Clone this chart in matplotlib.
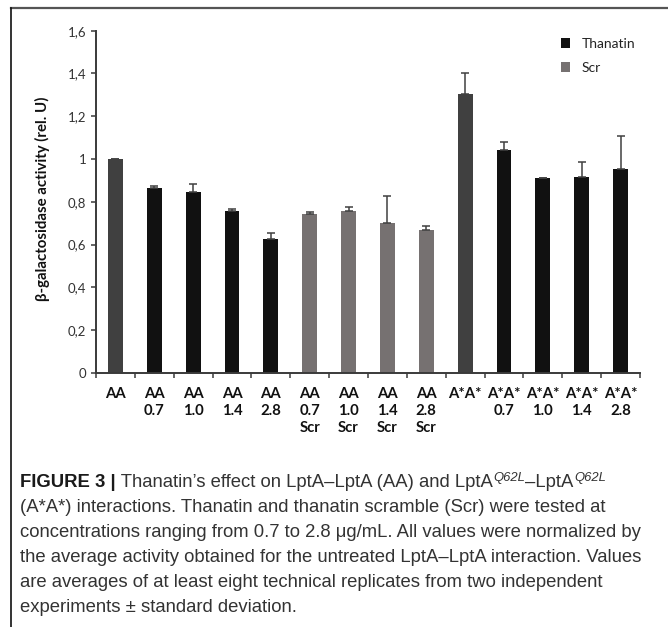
import matplotlib
matplotlib.use("Agg")
import matplotlib.pyplot as plt
from matplotlib.patches import Patch
from matplotlib.lines import Line2D
import numpy as np

# ---------------- data ----------------
categories = ["AA", "AA\n0.7", "AA\n1.0", "AA\n1.4", "AA\n2.8",
              "AA\n0.7\nScr", "AA\n1.0\nScr", "AA\n1.4\nScr", "AA\n2.8\nScr",
              "A*A*", "A*A*\n0.7", "A*A*\n1.0", "A*A*\n1.4", "A*A*\n2.8"]
values = [1.000, 0.863, 0.846, 0.757, 0.625,
          0.743, 0.755, 0.701, 0.668,
          1.305, 1.041, 0.910, 0.917, 0.952]
errors = [0.000, 0.012, 0.039, 0.010, 0.031,
          0.009, 0.022, 0.126, 0.018,
          0.095, 0.040, 0.002, 0.067, 0.154]
groups = ["untreated", "Thanatin", "Thanatin", "Thanatin", "Thanatin",
          "Scr", "Scr", "Scr", "Scr",
          "untreated", "Thanatin", "Thanatin", "Thanatin", "Thanatin"]
yticks = [0, 0.2, 0.4, 0.6, 0.8, 1.0, 1.2, 1.4, 1.6]
ytick_labels = ["0", "0,2", "0,4", "0,6", "0,8", "1", "1,2", "1,4", "1,6"]
legend_labels = ["Thanatin", "Scr"]
ylabel = "β-galactosidase activity (rel. U)"

caption_lines = [
    None,  # first line built from pieces
    "(A*A*) interactions. Thanatin and thanatin scramble (Scr) were tested at",
    "concentrations ranging from 0.7 to 2.8 μg/mL. All values were normalized by",
    "the average activity obtained for the untreated LptA–LptA interaction. Values",
    "are averages of at least eight technical replicates from two independent",
    "experiments ± standard deviation.",
]

# ---------------- style ----------------
colors = {"untreated": "#404040", "Thanatin": "#111111", "Scr": "#767171"}
axis_color = "#3a3a3a"
W, H = 668, 627
DPI = 100
cap_font = "Liberation Sans"

fig = plt.figure(figsize=(W / DPI, H / DPI), dpi=DPI)
fig.patch.set_facecolor("white")

def fx(px):
    return px / W

def fy(py):
    return 1 - py / H

ax_left, ax_right, ax_top, ax_bottom = 96, 640, 30.7, 373
ax = fig.add_axes([fx(ax_left), fy(ax_bottom), (ax_right - ax_left) / W,
                   (ax_bottom - ax_top) / H])

x = np.arange(len(categories))
bar_colors = [colors[g] for g in groups]
ax.bar(x, values, width=0.386, color=bar_colors, zorder=2,
       yerr=[np.zeros(len(errors)), errors], capsize=3.2,
       error_kw=dict(ecolor="#404040", elinewidth=1.1, capthick=1.1, zorder=3))

ax.set_xlim(-0.5, len(categories) - 0.5)
ax.set_ylim(0, 1.6)
ax.set_yticks(yticks)
ax.set_yticklabels(ytick_labels, fontfamily="Lato", fontsize=9.5, color="#333333")
ax.tick_params(axis="y", direction="out", length=3.5, width=1.1, color=axis_color, pad=3.5)

# x: major ticks at boundaries, labels at minor positions
ax.set_xticks(np.arange(-0.5, len(categories), 1.0))
ax.set_xticklabels([])
ax.tick_params(axis="x", which="major", direction="out", length=3.5, width=1.1, color=axis_color)
ax.set_xticks(x, minor=True)
ax.set_xticklabels(categories, minor=True, fontfamily="Lato", fontweight="bold",
                   fontsize=10.7, color="#111111", linespacing=1.3, va="top")
ax.tick_params(axis="x", which="minor", length=0, pad=10)

for side in ["top", "right"]:
    ax.spines[side].set_visible(False)
for side in ["left", "bottom"]:
    ax.spines[side].set_color(axis_color)
    ax.spines[side].set_linewidth(1.4)

fig.text(fx(42), fy(199), ylabel, rotation=90, ha="center", va="center",
         fontfamily="Lato", fontweight="bold", fontsize=10.8, color="#111111")

handles = [Patch(facecolor=colors["Thanatin"], edgecolor="none"),
           Patch(facecolor=colors["Scr"], edgecolor="none")]
leg = fig.legend(handles, legend_labels, loc="center left",
                 bbox_to_anchor=(fx(561), fy(56)), frameon=False,
                 prop=dict(family="Lato", size=10), handlelength=0.68,
                 handleheight=0.68, handletextpad=0.8, labelspacing=0.85,
                 borderpad=0, borderaxespad=0)
for t in leg.get_texts():
    t.set_color("#222222")

# border lines (top and left)
fig.add_artist(Line2D([fx(11), 1.0], [fy(8), fy(8)], transform=fig.transFigure,
                      color="#555555", linewidth=1.6))
fig.add_artist(Line2D([fx(11), fx(11)], [fy(8), 0.0], transform=fig.transFigure,
                      color="#111111", linewidth=1.2))

# ---------------- caption ----------------
renderer = fig.canvas.get_renderer()
cap_color = "#333333"
probe = fig.text(0, 0, caption_lines[2], fontfamily=cap_font, fontsize=11)
w = probe.get_window_extent(renderer).width
probe.remove()
cap_size = 11 * 622.0 / w

x0 = 20
baseline0 = 486.7
step = 25.0

def put(xpx, ybase, s, color=cap_color, **kw):
    t = fig.text(fx(xpx), fy(ybase), s, va="baseline", ha="left",
                 fontfamily=cap_font, color=color, **kw)
    return t.get_window_extent(renderer).x1

# line 1 pieces
xp = x0
xp = put(xp, baseline0, "FIGURE 3 |", fontsize=cap_size, fontweight="bold", color="#1a1a1a")
xp = put(xp, baseline0, " Thanatin’s effect on LptA–LptA (AA) and LptA", fontsize=cap_size)
xp = put(xp + 0.5, baseline0 - 5.5, "Q62L", fontsize=cap_size * 0.7, fontstyle="italic")
xp = put(xp + 0.5, baseline0, "–LptA", fontsize=cap_size)
xp = put(xp + 0.5, baseline0 - 5.5, "Q62L", fontsize=cap_size * 0.7, fontstyle="italic")

for i, line in enumerate(caption_lines[1:], start=1):
    put(x0, baseline0 + step * i, line, fontsize=cap_size)

fig.savefig("out.png", dpi=DPI, facecolor="white")
